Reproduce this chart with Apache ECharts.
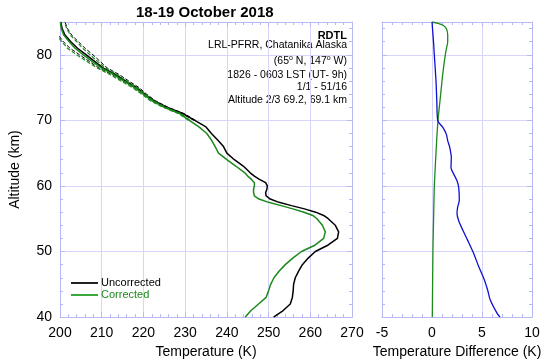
<!DOCTYPE html>
<html>
<head>
<meta charset="utf-8">
<script src="https://cdn.jsdelivr.net/npm/echarts@6/dist/echarts.min.js"></script>
<style>
html,body{margin:0;padding:0;background:#fff;}
#chart{width:550px;height:364px;}
</style>
</head>
<body>
<div id="chart"></div>
<script>
// ---- data ----
const altitude = [40,41,42,43,44,45,46,47,48,49,50,51,52,53,54,55,55.5,56,56.5,57,57.5,58,58.5,59,59.5,60,60.5,61,61.5,62,63,64,65,66,67,68,69,70,71,72,73,74,75,76,77,78,79,80,81,82,83,84,85];
const uncorrected = [251.2,253.5,255.2,255.7,255.9,256.0,256.4,257.2,258.1,259.5,261.2,264.3,266.5,266.8,266.0,264.3,263.2,261.3,258.6,255.5,252.5,250.4,249.4,249.3,249.6,249.7,249.3,247.8,246.6,245.6,244.0,241.8,240.0,239.2,237.8,236.3,235.0,232.3,229.6,225.6,222.5,220.3,218.4,215.8,213.3,210.3,208.3,206.3,204.2,202.6,201.2,200.5,200.2];
const corrected = [244.4,245.8,247.6,249.4,250.0,250.5,251.3,252.5,254.0,255.8,257.9,261.2,263.2,263.6,262.9,261.6,260.6,258.5,255.8,253.0,250.0,247.7,246.6,246.4,246.4,246.6,246.6,245.9,245.0,244.3,242.2,240.0,238.0,237.2,236.3,235.2,233.3,231.0,228.8,225.0,222.0,220.0,217.9,215.3,212.8,209.9,207.7,205.6,203.6,202.2,200.9,200.3,200.1];
// error envelope near the top (K), for altitudes 70..85
const errAltitude = [70,71,72,73,74,75,76,77,78,79,80,81,82,83,84,85];
const uncorrErr = [0.2,0.25,0.3,0.35,0.45,0.55,0.7,0.85,1.0,1.3,1.6,1.8,1.8,1.6,1.3,1.0];
const corrErr = [0.2,0.25,0.3,0.35,0.45,0.55,0.7,0.85,1.0,1.3,1.6,1.8,1.8,1.6,1.3,1.0];
// temperature difference panel
const diffAltitude = [40,40.6,42.6,44.1,45.7,47.7,49.7,51.7,53.2,54.7,55.8,56.8,57.8,59.8,60.8,61.8,62.8,64.3,65.9,66.9,67.9,68.9,70,73,76,80,82,84,84.7,85];
const diffBlue = [6.8,6.5,5.83,5.57,5.23,4.67,4.17,3.57,3.1,2.67,2.5,2.57,2.73,2.67,2.5,2.17,1.9,1.93,1.77,1.57,1.43,1.1,0.57,0.48,0.4,0.23,0.15,0.05,0.02,0.0];
const diffGreenAltitude = [40,45,50.9,55,59.8,65.9,70,73,76,78,80,81,82,83,84,84.5,84.8,85];
const diffGreen = [0.03,0.06,0.1,0.16,0.23,0.43,0.6,0.8,1.0,1.15,1.33,1.45,1.57,1.57,1.43,1.1,0.6,0.0];
const tempTicks = [200,210,220,230,240,250,260,270];
const diffTicks = [-5,0,5,10];
const altTicks = [40,50,60,70,80];
const titleText = '18-19 October 2018';
const infoLines = ['LRL-PFRR, Chatanika Alaska','(65{s|o} N, 147{s|o} W)','1826 - 0603 LST (UT- 9h)','1/1 - 51/16','Altitude 2/3 69.2, 69.1 km'];

// ---- build ----
const FONT = '"Liberation Sans", Arial, sans-serif';
const AXIS = '#b8b8f4';
const GRID = '#d6d6fa';
const GREEN = '#1b8a1b';
const BLUE = '#1010d0';

function pairs(xs, ys){ return ys.map((y,i)=>[xs[i], y]); }
function errLine(base, err, sign){
  return errAltitude.map((a,i)=>{
    const idx = altitude.indexOf(a);
    return [base[idx] + sign*err[i], a];
  });
}

function xAx(grid, min, max, interval, pos, labels, name){
  return {
    type:'value', gridIndex:grid, min:min, max:max, interval:interval, position:pos,
    axisLine:{show:true, onZero:false, lineStyle:{color:AXIS, width:1}},
    axisTick:{show:true, inside:true, length:5, lineStyle:{color:AXIS}},
    minorTick:{show:true, splitNumber:5, length:3, lineStyle:{color:AXIS}},
    splitLine:{show:labels, lineStyle:{color:GRID, width:1}},
    axisLabel:{show:labels, color:'#000', fontSize:14, fontFamily:FONT, margin:9},
    name: name||'', nameLocation:'middle', nameGap:25,
    nameTextStyle:{color:'#000', fontSize:14, fontFamily:FONT}
  };
}
function yAx(grid, pos, labels, name){
  return {
    type:'value', gridIndex:grid, min:altTicks[0], max:85, interval:10, position:pos,
    axisLine:{show:true, onZero:false, lineStyle:{color:AXIS, width:1}},
    axisTick:{show:true, inside:true, length:5, lineStyle:{color:AXIS}},
    minorTick:{show:false},
    splitLine:{show:pos==='left', lineStyle:{color:GRID, width:1}},
    axisLabel:{show:labels, showMaxLabel:false, color:'#000', fontSize:14, fontFamily:FONT, margin:8},
    name: name||'', nameLocation:'middle', nameGap:38, nameRotate:90,
    nameTextStyle:{color:'#000', fontSize:14, fontFamily:FONT}
  };
}
function yMinor(grid, pos){
  return {
    type:'value', gridIndex:grid, min:altTicks[0], max:85, interval:2, position:pos,
    axisLine:{show:false, onZero:false},
    axisTick:{show:true, inside:true, length:3, lineStyle:{color:AXIS}},
    splitLine:{show:false}, axisLabel:{show:false}
  };
}

const option = {
  animation:false,
  backgroundColor:'#fff',
  grid:[
    {left:53, top:22, width:299, height:297},
    {left:382, top:22, width:150, height:297}
  ],
  xAxis:[
    xAx(0, tempTicks[0], tempTicks[tempTicks.length-1], 10, 'bottom', true, 'Temperature (K)'),
    xAx(0, tempTicks[0], tempTicks[tempTicks.length-1], 10, 'top', false),
    xAx(1, diffTicks[0], diffTicks[diffTicks.length-1], 5, 'bottom', true, 'Temperature Difference (K)'),
    xAx(1, diffTicks[0], diffTicks[diffTicks.length-1], 5, 'top', false)
  ],
  yAxis:[
    yAx(0, 'left', true, 'Altitude (km)'),
    yAx(0, 'right', false),
    yAx(1, 'left', false),
    yAx(1, 'right', false),
    yMinor(0, 'left'), yMinor(0, 'right'), yMinor(1, 'left'), yMinor(1, 'right')
  ],
  legend:{
    orient:'vertical', left:66, top:272, itemWidth:27, itemHeight:2, itemGap:0,
    icon:'rect',
    textStyle:{fontSize:11, fontFamily:FONT, lineHeight:12, padding:[0,0,0,-2]},
    data:[
      {name:'Uncorrected', textStyle:{color:'#000'}},
      {name:'Corrected', textStyle:{color:GREEN}}
    ]
  },
  series:[
    {name:'Uncorrected', type:'line', xAxisIndex:0, yAxisIndex:0, data:pairs(uncorrected, altitude), symbol:'none', lineStyle:{color:'#000', width:1.5}, itemStyle:{color:'#222'}, z:3},
    {name:'UncErrHi', type:'line', xAxisIndex:0, yAxisIndex:0, data:errLine(uncorrected, uncorrErr, 1), symbol:'none', lineStyle:{color:'#000', width:1, type:[4,2]}, z:2},
    {name:'UncErrLo', type:'line', xAxisIndex:0, yAxisIndex:0, data:errLine(uncorrected, uncorrErr, -1), symbol:'none', lineStyle:{color:'#000', width:1, type:[4,2]}, z:2},
    {name:'Corrected', type:'line', xAxisIndex:0, yAxisIndex:0, data:pairs(corrected, altitude), symbol:'none', lineStyle:{color:GREEN, width:1.5}, itemStyle:{color:'#3aa83a'}, z:4},
    {name:'CorErrHi', type:'line', xAxisIndex:0, yAxisIndex:0, data:errLine(corrected, corrErr, 1), symbol:'none', lineStyle:{color:GREEN, width:1.2, type:[4,2]}, z:4},
    {name:'CorErrLo', type:'line', xAxisIndex:0, yAxisIndex:0, data:errLine(corrected, corrErr, -1), symbol:'none', lineStyle:{color:GREEN, width:1.2, type:[4,2]}, z:4},
    {name:'DiffGreen', type:'line', xAxisIndex:2, yAxisIndex:2, data:pairs(diffGreen, diffGreenAltitude), symbol:'none', smooth:0.3, lineStyle:{color:GREEN, width:1.3}, z:3},
    {name:'DiffBlue', type:'line', xAxisIndex:2, yAxisIndex:2, data:pairs(diffBlue, diffAltitude), symbol:'none', smooth:0.3, lineStyle:{color:BLUE, width:1.3}, z:4}
  ],
  graphic:[
    {type:'text', left:136, top:5, style:{text:titleText, fill:'#000', font:'bold 15px '+FONT}},
    {type:'text', right:203, top:30, style:{text:'RDTL', fill:'#000', font:'bold 11px '+FONT}},
    {type:'text', right:203, top:40, style:{text:infoLines[0], fill:'#000', font:'10.5px '+FONT}},
    {type:'text', right:203, top:55, style:{text:infoLines[1], fill:'#000', font:'10.5px '+FONT,
      rich:{s:{fontSize:7, fontFamily:FONT, padding:[0,0,6,0], verticalAlign:'top'}}}},
    {type:'text', right:203, top:70, style:{text:infoLines[2], fill:'#000', font:'10.5px '+FONT}},
    {type:'text', right:203, top:82, style:{text:infoLines[3], fill:'#000', font:'10.5px '+FONT}},
    {type:'text', right:203, top:95, style:{text:infoLines[4], fill:'#000', font:'10.5px '+FONT}}
  ]
};
const chart = echarts.init(document.getElementById('chart'), null, {renderer:'canvas'});
chart.setOption(option);
</script>
</body>
</html>
